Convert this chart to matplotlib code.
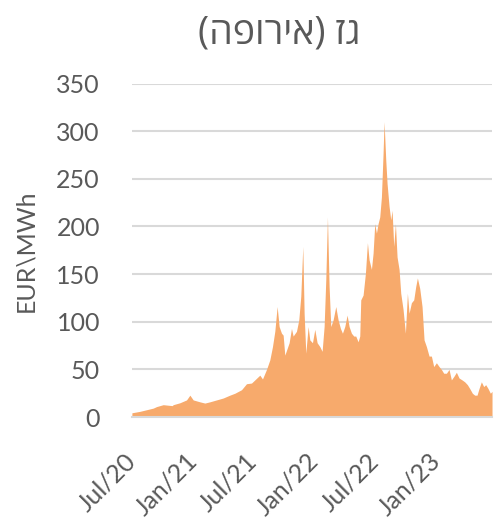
import numpy as np
import matplotlib
matplotlib.use('Agg')
import matplotlib.pyplot as plt
import matplotlib.dates as mdates

# TTF gas price, days counted from the first point (2020-07-23)
start = np.datetime64('2020-07-23')
days = [0, 24, 44, 64, 74, 94, 121, 124, 144, 164,
        174, 184, 204, 219, 234, 254, 274, 294, 309, 329,
        344, 359, 369, 384, 392, 404, 414, 422, 429, 436,
        442, 449, 454, 459, 464, 472, 479, 484, 494, 501,
        507, 513, 517, 522, 529, 534, 542, 549, 556, 564,
        571, 577, 582, 587, 592, 597, 604, 612, 619, 626,
        632, 639, 646, 652, 659, 666, 672, 679, 684, 687,
        694, 701, 707, 712, 719, 724, 729, 734, 739, 744,
        749, 754, 757, 762, 766, 772, 777, 781, 786, 791,
        796, 802, 807, 814, 821, 827, 832, 839, 846, 852,
        857, 864, 871, 877, 884, 892, 899, 906, 914, 922,
        929, 936, 944, 952, 959, 967, 974, 982, 991, 999,
        1007, 1014, 1022, 1029, 1036, 1042, 1049, 1056, 1062, 1069,
        1076, 1081]
price = [4.5, 6, 7.7, 9.4, 11, 13, 12, 13, 15, 18,
         23, 18, 16, 14.7, 16, 18, 20, 23, 25, 28.7,
         35, 35.7, 39, 44, 40, 50, 60, 74, 90, 116,
         95, 88, 86, 65, 70, 78, 93, 85, 90, 102,
         127, 179, 109, 67, 95, 81, 78, 92, 78, 74,
         69, 95, 144, 210, 137, 95, 102, 116, 102, 93,
         88, 95, 107, 95, 88, 85, 85, 79, 85, 123,
         128, 151, 183, 165, 155, 172, 203, 193, 203, 210,
         231, 277, 310, 270, 245, 221, 207, 217, 179, 203,
         168, 155, 130, 113, 88, 130, 109, 120, 123, 137,
         146, 135, 116, 81, 74, 64, 64, 53, 57, 53,
         50, 46, 46, 50, 39, 43, 47, 41, 39, 37,
         34, 30, 25, 23, 23, 30, 37, 32, 34, 30,
         25, 27]
yticks = [0, 50, 100, 150, 200, 250, 300, 350]
xticks = ['2020-07-23', '2021-01-23', '2021-07-23', '2022-01-23', '2022-07-23', '2023-01-23']

# hebrew title, written in visual order since matplotlib has no bidi: "גז (אירופה)"
title = '(הפוריא) זג'
ylabel = 'EUR\\MWh'

dates = start + np.array(days).astype('timedelta64[D]')
txt = '#595959'
grid = '#D9D9D9'

fig = plt.figure(figsize=(4.94, 5.22), dpi=100)
ax = fig.add_axes([0.267, 0.201, 0.729, 0.639])

ax.fill_between(dates, 0, price, color='#F7AA6C', lw=0, zorder=2)

ax.set_ylim(0, 350)
ax.set_xlim(start, start + np.timedelta64(days[-1], 'D'))
ax.set_yticks(yticks)
ax.set_xticks([np.datetime64(d) for d in xticks])
ax.xaxis.set_major_formatter(mdates.DateFormatter('%b/%y'))
ax.yaxis.grid(True, color=grid, lw=1.5, zorder=0)
ax.set_axisbelow(True)
for s in ['top', 'right', 'left']:
    ax.spines[s].set_visible(False)
ax.spines['bottom'].set_color(grid)
ax.spines['bottom'].set_linewidth(1.5)
ax.spines['bottom'].set_zorder(3)

ax.tick_params(axis='both', length=0, colors=txt, labelsize=18)
ax.tick_params(axis='y', pad=23)
ax.tick_params(axis='x', pad=29)
for lab in ax.get_yticklabels() + ax.get_xticklabels():
    lab.set_family('Lato')
for lab in ax.get_xticklabels():
    lab.set_rotation(45)
    lab.set_ha('right')
    lab.set_va('center')
    lab.set_rotation_mode('anchor')

fig.text(0.565, 0.935, title, ha='center', va='center', fontsize=27, color=txt,
         family=['Open Sans', 'DejaVu Sans'])
fig.text(0.053, 0.519, ylabel, ha='center', va='center', rotation=90, fontsize=18,
         color=txt, family='Lato')

fig.savefig('out.png', dpi=100)
